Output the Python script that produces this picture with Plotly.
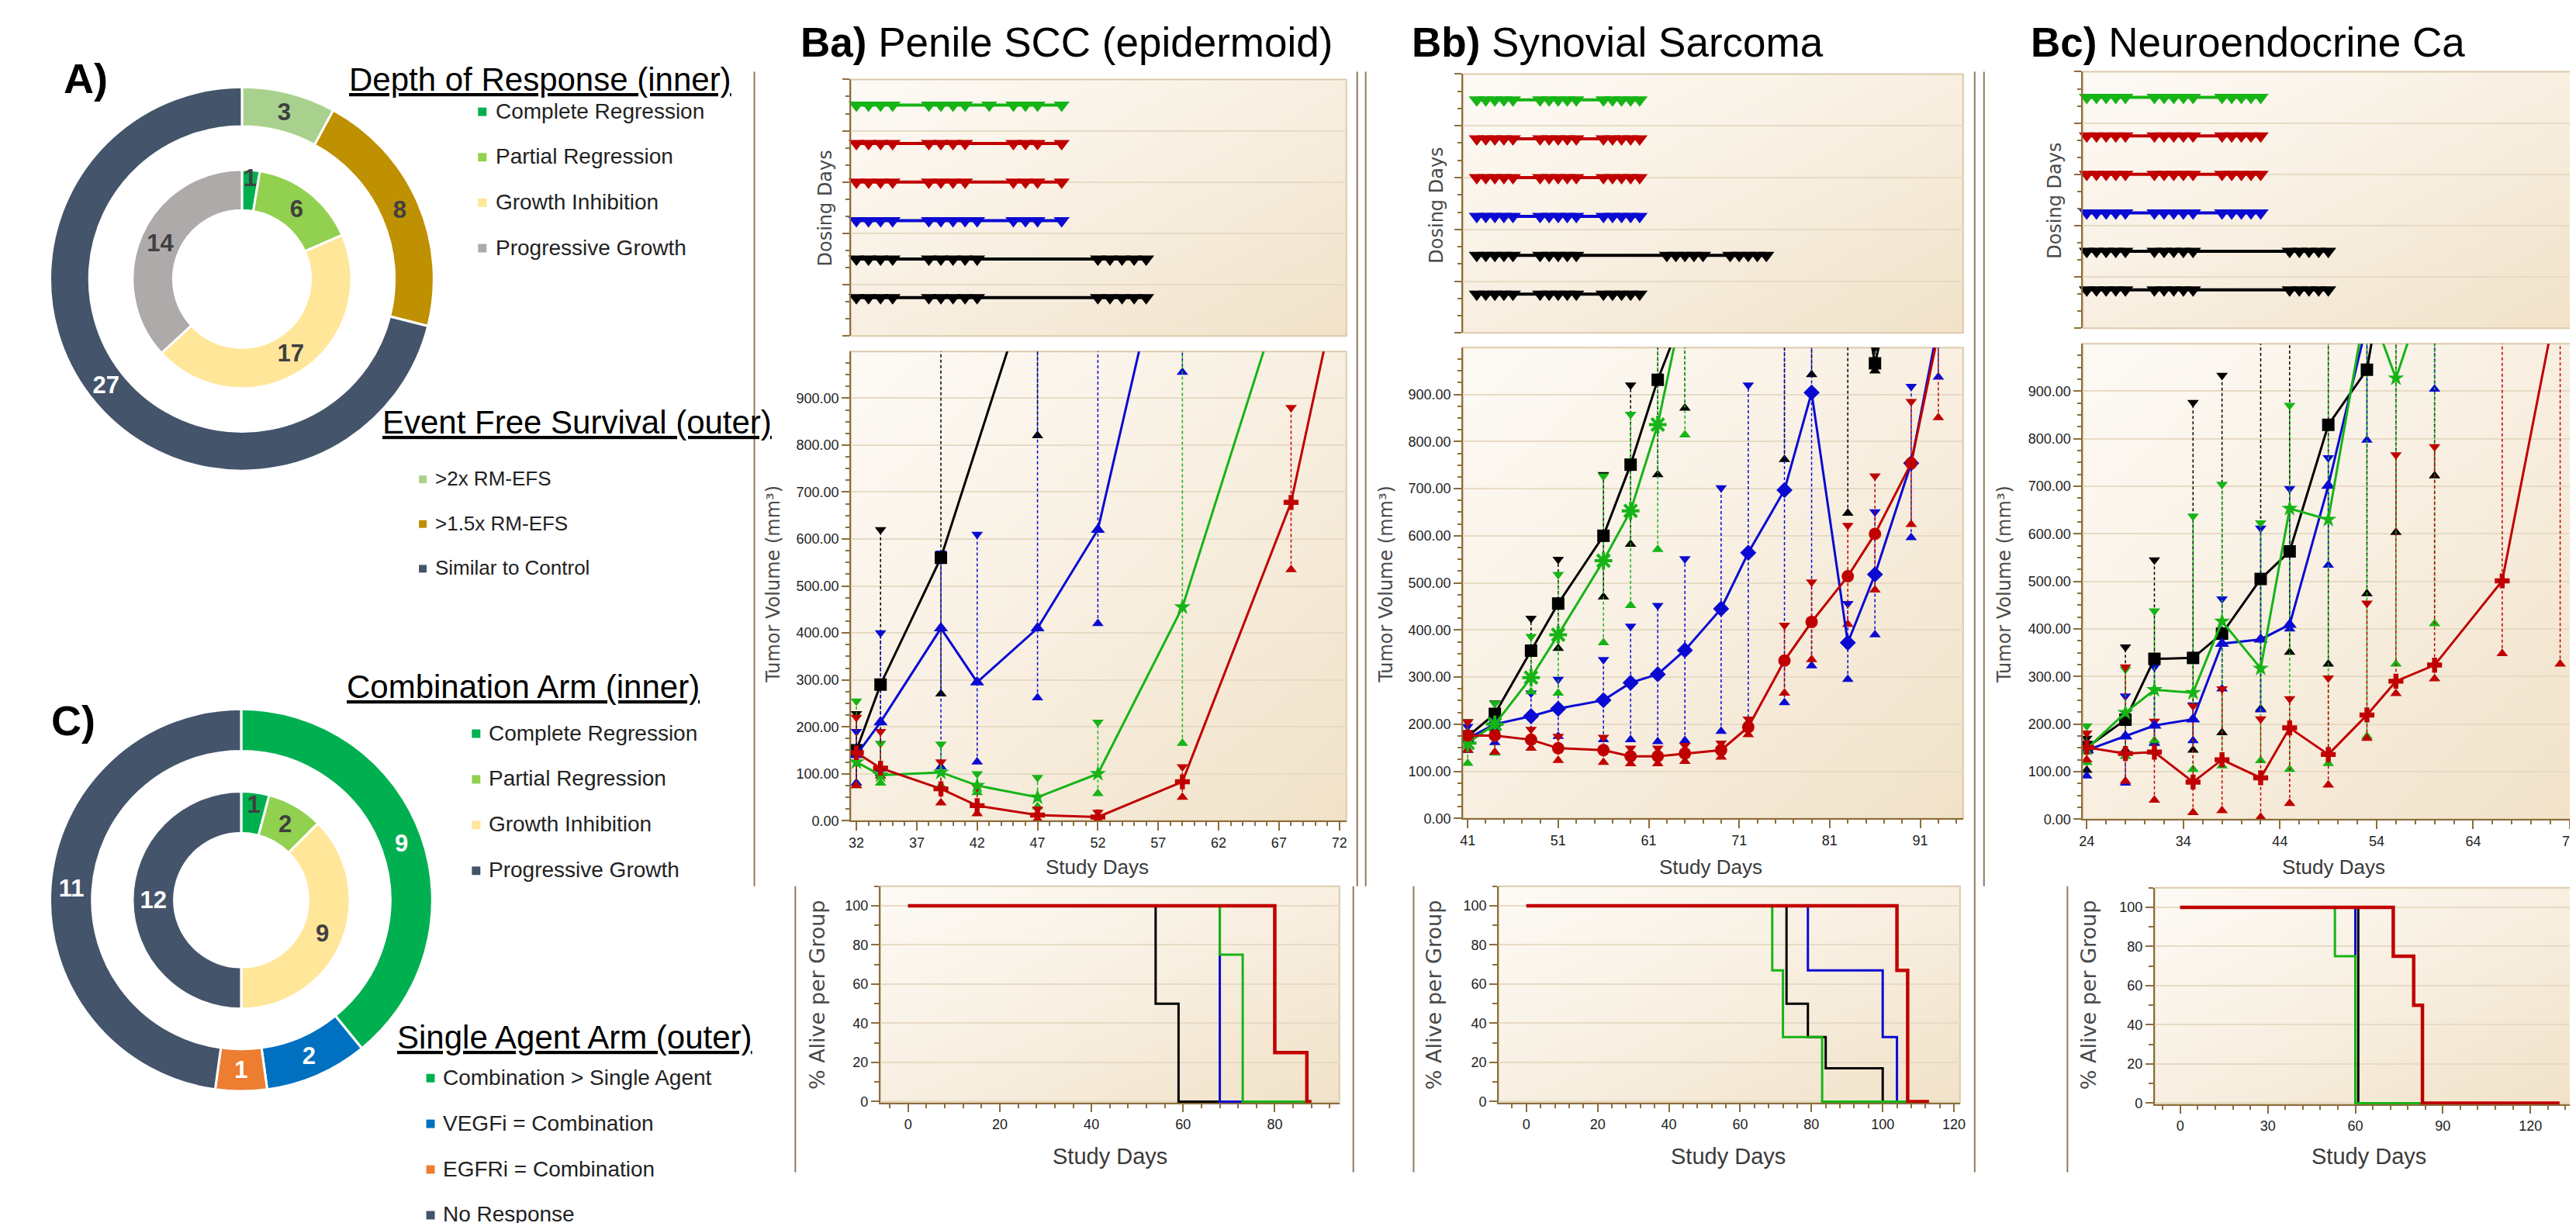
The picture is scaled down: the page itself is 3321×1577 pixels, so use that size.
import base64
import plotly.graph_objects as go

W, H = 3321, 1577

# ===================== DATA =====================
# Panel A - nested donut
dor_labels = ["Complete Regression", "Partial Regression", "Growth Inhibition", "Progressive Growth"]
dor_values = [1, 6, 17, 14]
efs_labels = [">2x RM-EFS", ">1.5x RM-EFS", "Similar to Control"]
efs_values = [3, 8, 27]

# Panel C - nested donut
combo_labels = ["Complete Regression", "Partial Regression", "Growth Inhibition", "Progressive Growth"]
combo_values = [1, 2, 9, 12]
single_labels = ["Combination > Single Agent", "VEGFi = Combination", "EGFRi = Combination", "No Response"]
single_values = [9, 2, 1, 11]

# ---- Ba) Penile SCC: tumour volume (mean, upper, lower) ----
ba_k_day = [32, 34, 39, 47]
ba_k_mean = [150, 290, 560, 1200]
ba_k_hi = [228, 620, 1400, 1700]
ba_k_lo = [80, 100, 270, 820]
ba_b_day = [32, 34, 39, 42, 47, 52, 59]
ba_b_mean = [140, 210, 410, 295, 410, 620, 1400]
ba_b_hi = [190, 400, 570, 610, 1300, 1500, 1800]
ba_b_lo = [80, 110, 115, 125, 262, 420, 955]
ba_g_day = [32, 34, 39, 42, 47, 52, 59, 68]
ba_g_mean = [125, 97, 103, 75, 50, 100, 455, 1184]
ba_g_hi = [255, 165, 163, 100, 92, 210, 1500, 1600]
ba_g_lo = [75, 80, 75, 60, 30, 58, 165, 1050]
ba_r_day = [32, 34, 39, 42, 47, 52, 59, 68, 72]
ba_r_mean = [145, 112, 68, 32, 12, 8, 83, 678, 1155]
ba_r_hi = [220, 190, 125, 72, 25, 18, 115, 880, 1400]
ba_r_lo = [75, 95, 38, 15, 3, 2, 50, 535, 1050]

# ---- Bb) Synovial Sarcoma ----
bb_k_day = [41, 44, 48, 51, 56, 59, 62, 65, 69, 72, 76, 79, 83, 86, 90]
bb_k_mean = [174, 222, 356, 456, 600, 751, 931, 1080, 1200, 1300, 1400, 1450, 1300, 966, 1300]
bb_k_hi = [205, 245, 425, 550, 730, 920, 1150, 1300, 1400, 1500, 1600, 1650, 1500, 1000, 1500]
bb_k_lo = [145, 190, 295, 361, 470, 582, 730, 871, 1050, 1100, 762, 942, 648, 950, 1100]
bb_g_day = [41, 44, 48, 51, 56, 59, 62, 65]
bb_g_mean = [160, 200, 299, 390, 547, 653, 836, 1110]
bb_g_hi = [205, 244, 386, 518, 727, 858, 1100, 1400]
bb_g_lo = [117, 139, 269, 266, 373, 452, 571, 814]
bb_b_day = [41, 44, 48, 51, 56, 59, 62, 65, 69, 72, 76, 79, 83, 86, 90, 93]
bb_b_mean = [170, 200, 217, 233, 251, 288, 306, 357, 445, 564, 697, 904, 373, 518, 754, 1050]
bb_b_hi = [195, 225, 266, 295, 337, 408, 452, 551, 702, 920, 1300, 1500, 456, 651, 917, 1300]
bb_b_lo = [145, 161, 167, 174, 167, 167, 163, 165, 185, 203, 246, 324, 295, 390, 596, 937]
bb_r_day = [41, 44, 48, 51, 56, 59, 62, 65, 69, 72, 76, 79, 83, 86, 90, 93]
bb_r_mean = [176, 176, 167, 149, 145, 132, 132, 138, 145, 194, 335, 417, 514, 604, 754, 1030]
bb_r_hi = [205, 208, 189, 174, 172, 149, 149, 155, 160, 211, 410, 502, 622, 727, 885, 1200]
bb_r_lo = [145, 141, 149, 123, 119, 116, 116, 121, 130, 178, 266, 337, 412, 485, 624, 851]

# ---- Bc) Neuroendocrine Ca ----
bc_k_day = [24, 28, 31, 35, 38, 42, 45, 49, 53, 56, 60]
bc_k_mean = [151, 209, 337, 339, 390, 505, 563, 829, 945, 1300, 1500]
bc_k_hi = [170, 362, 545, 876, 933, 1200, 1300, 1100, 1200, 1600, 1800]
bc_k_lo = [103, 145, 160, 145, 182, 232, 351, 326, 474, 603, 722]
bc_g_day = [24, 28, 31, 35, 38, 42, 45, 49, 53, 56, 60]
bc_g_mean = [148, 224, 272, 266, 416, 317, 653, 630, 1093, 927, 1171]
bc_g_hi = [196, 315, 438, 637, 704, 623, 870, 1200, 1400, 1100, 1500]
bc_g_lo = [119, 132, 165, 105, 112, 123, 105, 117, 174, 326, 411]
bc_b_day = [24, 28, 31, 35, 38, 42, 45, 49, 53, 56, 60]
bc_b_mean = [145, 174, 197, 210, 369, 378, 409, 701, 1034, 1300, 1500]
bc_b_hi = [160, 259, 320, 240, 463, 612, 695, 760, 1300, 1500, 1800]
bc_b_lo = [91, 76, 160, 165, 274, 230, 400, 534, 797, 1050, 904]
bc_r_day = [24, 28, 31, 35, 38, 42, 45, 49, 53, 56, 60, 67, 73]
bc_r_mean = [151, 138, 141, 78, 125, 87, 192, 136, 219, 290, 324, 501, 1125]
bc_r_hi = [181, 320, 206, 238, 274, 211, 253, 297, 454, 766, 783, 1200, 1400]
bc_r_lo = [125, 80, 40, 14, 18, 4, 33, 72, 170, 264, 295, 348, 326]

# ---- survival (% alive per group) ----
ba_sv_k_t, ba_sv_k_s = [0, 54, 59, 68], [100, 50, 0, 0]
ba_sv_b_t, ba_sv_b_s = [0, 68, 73], [100, 0, 0]
ba_sv_g_t, ba_sv_g_s = [0, 68, 73, 87], [100, 75, 0, 0]
ba_sv_r_t, ba_sv_r_s = [0, 80, 87, 88], [100, 25, 0, 0]
bb_sv_k_t, bb_sv_k_s = [0, 73, 79, 84, 100], [100, 50, 33, 17, 0]
bb_sv_b_t, bb_sv_b_s = [0, 79, 100, 104], [100, 67, 33, 0]
bb_sv_g_t, bb_sv_g_s = [0, 69, 72, 83, 107], [100, 67, 33, 0, 0]
bb_sv_r_t, bb_sv_r_s = [0, 104, 107, 113], [100, 67, 0, 0]
bc_sv_k_t, bc_sv_k_s = [0, 61], [100, 0]
bc_sv_b_t, bc_sv_b_s = [0, 60], [100, 0]
bc_sv_g_t, bc_sv_g_s = [0, 53, 60, 83], [100, 75, 0, 0]
bc_sv_r_t, bc_sv_r_s = [0, 73, 80, 83, 130], [100, 75, 50, 0, 0]

# ---- dosing days (rows top -> bottom: green, red, red, blue, black, black) ----
ba_dose_g = [32, 33, 34, 35, 38, 39, 40, 41, 43, 45, 46, 47, 49]
ba_dose_r = [32, 33, 34, 35, 38, 39, 40, 41, 45, 46, 47, 49]
ba_dose_b = [32, 33, 34, 35, 38, 39, 40, 41, 42, 45, 46, 47, 49]
ba_dose_k = [32, 33, 34, 35, 38, 39, 40, 41, 42, 52, 53, 54, 55, 56]
bb_dose_c = [42, 43, 44, 45, 46, 49, 50, 51, 52, 53, 56, 57, 58, 59, 60]
bb_dose_k1 = [42, 43, 44, 45, 46, 49, 50, 51, 52, 53, 63, 64, 65, 66, 67, 70, 71, 72, 73, 74]
bb_dose_k2 = [42, 43, 44, 45, 46, 49, 50, 51, 52, 53, 56, 57, 58, 59, 60]
bc_dose_c = [24, 25, 26, 27, 28, 31, 32, 33, 34, 35, 38, 39, 40, 41, 42]
bc_dose_k = [24, 25, 26, 27, 28, 31, 32, 33, 34, 35, 45, 46, 47, 48, 49]

tumor_ticks = [0, 100, 200, 300, 400, 500, 600, 700, 800, 900]
surv_ticks = [0, 20, 40, 60, 80, 100]

# ===================== STYLE =====================
dor_colors = ["#00b050", "#92d050", "#ffe699", "#aeaaaa"]
efs_colors = ["#a9d18e", "#bf9000", "#44546a"]
combo_colors = ["#00b050", "#92d050", "#ffe699", "#44546a"]
single_colors = ["#00b050", "#0070c0", "#ed7d31", "#44546a"]

K, BL, GR, RD = "#000000", "#0a0ad2", "#16b416", "#c00000"
BROWN = "#8c6d3c"
TAN = "#dccbab"
GRID = "#e7dbc5"
SEP = "#8f7a5c"
F_MAIN = "Liberation Sans, Arial, sans-serif"
F_AXIS = "DejaVu Sans, Verdana, sans-serif"


def xd(l, r):
    return [l / W, r / W]


def yd(t, b):
    return [1 - b / H, 1 - t / H]


fig = go.Figure()
lay = dict(width=W, height=H, margin=dict(l=0, r=0, t=0, b=0),
           paper_bgcolor="white", plot_bgcolor="rgba(0,0,0,0)",
           showlegend=False, uniformtext=dict(minsize=31, mode="show"))
annotations, shapes, images = [], [], []

grad_svg = ('<svg xmlns="http://www.w3.org/2000/svg" width="200" height="200" viewBox="0 0 200 200" '
            'preserveAspectRatio="none"><defs><linearGradient id="g" x1="0" y1="0" x2="1" y2="1">'
            '<stop offset="0" stop-color="#fdfaf5"/><stop offset="0.5" stop-color="#f8efe1"/>'
            '<stop offset="1" stop-color="#f1e2c8"/></linearGradient></defs>'
            '<rect width="200" height="200" fill="url(#g)"/></svg>')
grad_src = "data:image/svg+xml;base64," + base64.b64encode(grad_svg.encode()).decode()


def txt(x, y, text, size, family=F_MAIN, color="#000", xanchor="left", yanchor="middle", angle=0):
    annotations.append(dict(x=x / W, y=1 - y / H, xref="paper", yref="paper", text=text, showarrow=False,
                            xanchor=xanchor, yanchor=yanchor, textangle=angle,
                            font=dict(size=size, family=family, color=color)))


def vline(x, y0, y1):
    shapes.append(dict(type="line", xref="paper", yref="paper", x0=x / W, x1=x / W, y0=1 - y0 / H,
                       y1=1 - y1 / H, line=dict(color=SEP, width=2)))


def setup_axes(n, box, xr, yr, kind, xt0=None, xdt=None, xmin=None):
    l, t, r, b = box
    sx = "" if n == 1 else str(n)
    images.append(dict(source=grad_src, xref="paper", yref="paper", x=l / W, y=1 - t / H,
                       sizex=(r - l) / W, sizey=(b - t) / H, xanchor="left", yanchor="top",
                       sizing="stretch", layer="below"))
    shapes.append(dict(type="rect", xref="x%s domain" % sx, yref="y%s domain" % sx, x0=0, x1=1, y0=0, y1=1,
                       line=dict(color=TAN, width=2), layer="below"))
    xa = dict(domain=xd(l, r), range=xr, anchor="y" + sx, showgrid=False, zeroline=False, fixedrange=True)
    ya = dict(domain=yd(t, b), range=yr, anchor="x" + sx, zeroline=False, fixedrange=True,
              showline=True, linecolor=BROWN, linewidth=2, ticks="outside", tickcolor=BROWN, tickwidth=2,
              showgrid=True, gridcolor=GRID, gridwidth=2,
              tickfont=dict(family=F_MAIN, size=18, color="#222"))
    if kind == "dose":
        ya.update(tickmode="linear", tick0=0, dtick=1, ticklen=9, showticklabels=False,
                  minor=dict(tick0=0, dtick=1 / 3, ticks="outside", ticklen=5, tickcolor=BROWN, tickwidth=2))
        xa.update(showticklabels=False, ticks="", showline=False)
    elif kind == "tumor":
        ya.update(tickmode="array", tickvals=tumor_ticks, tickformat=".2f", ticklen=10,
                  minor=dict(tick0=0, dtick=25, ticks="outside", ticklen=5, tickcolor=BROWN, tickwidth=2))
        xa.update(showline=True, linecolor=BROWN, linewidth=2, ticks="outside", ticklen=11, tickcolor=BROWN,
                  tickwidth=2, tick0=xt0, dtick=xdt,
                  tickfont=dict(family=F_MAIN, size=18, color="#222"),
                  minor=dict(tick0=xt0, dtick=xmin, ticks="outside", ticklen=5, tickcolor=BROWN, tickwidth=2))
    else:
        ya.update(tickmode="array", tickvals=surv_ticks, ticklen=10,
                  tickfont=dict(family=F_MAIN, size=18, color="#222"),
                  minor=dict(tick0=0, dtick=10, ticks="outside", ticklen=6, tickcolor=BROWN, tickwidth=2))
        xa.update(showline=True, linecolor=BROWN, linewidth=2, ticks="outside", ticklen=10, tickcolor=BROWN,
                  tickwidth=2, tick0=0, dtick=xdt,
                  tickfont=dict(family=F_MAIN, size=18, color="#222"),
                  minor=dict(tick0=0, dtick=xmin, ticks="outside", ticklen=5, tickcolor=BROWN, tickwidth=2))
    lay["xaxis" + sx] = xa
    lay["yaxis" + sx] = ya
    return "x" + sx, "y" + sx


def add_dosing(ax, rows):
    row_y = [4.5, 3.75, 3.0, 2.25, 1.5, 0.75]
    for (days, col), yv in zip(rows, row_y):
        fig.add_trace(go.Scatter(x=days, y=[yv] * len(days), mode="lines+markers", xaxis=ax[0], yaxis=ax[1],
                                 line=dict(color=col, width=4),
                                 marker=dict(symbol="triangle-down", size=18, color=col),
                                 hoverinfo="skip", cliponaxis=False))


def add_tumor(ax, groups):
    for d, m, hi, lo, col, sym in groups:
        xs, ys = [], []
        for dd, l_, h_ in zip(d, lo, hi):
            xs += [dd, dd, None]
            ys += [l_, h_, None]
        fig.add_trace(go.Scatter(x=xs, y=ys, mode="lines", xaxis=ax[0], yaxis=ax[1],
                                 line=dict(color=col, width=1.5, dash="4px,3px"), hoverinfo="skip"))
        fig.add_trace(go.Scatter(x=d, y=hi, mode="markers", xaxis=ax[0], yaxis=ax[1],
                                 marker=dict(symbol="triangle-down", size=13, color=col), hoverinfo="skip"))
        fig.add_trace(go.Scatter(x=d, y=lo, mode="markers", xaxis=ax[0], yaxis=ax[1],
                                 marker=dict(symbol="triangle-up", size=13, color=col), hoverinfo="skip"))
    for d, m, hi, lo, col, sym in groups:
        mk = dict(symbol=sym, size=16, color=col)
        if sym.endswith("-open"):
            mk.update(size=19, line=dict(color=col, width=4))
        fig.add_trace(go.Scatter(x=d, y=m, mode="lines+markers", xaxis=ax[0], yaxis=ax[1],
                                 line=dict(color=col, width=3), marker=mk, hoverinfo="skip"))


def add_surv(ax, curves):
    for t, s, col, wd in curves:
        fig.add_trace(go.Scatter(x=t, y=s, mode="lines", line_shape="hv", xaxis=ax[0], yaxis=ax[1],
                                 line=dict(color=col, width=wd), hoverinfo="skip"))


# ===================== B PANELS =====================
# Ba
a1 = setup_axes(1, (1088, 95, 1729, 428), [31.55, 72.58], [0, 5], "dose")
a2 = setup_axes(2, (1088, 448, 1729, 1057), [31.55, 72.58], [0, 999.5], "tumor", 32, 5, 1)
a3 = setup_axes(3, (1126, 1142, 1720, 1423), [-6.07, 94.1], [-0.6, 110], "surv", None, 20, 4)
add_dosing(a1, [(ba_dose_g, GR), (ba_dose_r, RD), (ba_dose_r, RD), (ba_dose_b, BL), (ba_dose_k, K), (ba_dose_k, K)])
add_tumor(a2, [(ba_k_day, ba_k_mean, ba_k_hi, ba_k_lo, K, "square"),
               (ba_b_day, ba_b_mean, ba_b_hi, ba_b_lo, BL, "triangle-up"),
               (ba_g_day, ba_g_mean, ba_g_hi, ba_g_lo, GR, "star"),
               (ba_r_day, ba_r_mean, ba_r_hi, ba_r_lo, RD, "cross")])
add_surv(a3, [(ba_sv_k_t, ba_sv_k_s, K, 3), (ba_sv_b_t, ba_sv_b_s, BL, 3),
              (ba_sv_g_t, ba_sv_g_s, GR, 3), (ba_sv_r_t, ba_sv_r_s, RD, 4.5)])

# Bb
a4 = setup_axes(4, (1880, 88, 2527, 424), [40.49, 95.74], [0, 5], "dose")
a5 = setup_axes(5, (1880, 443, 2527, 1054), [40.49, 95.74], [0, 999.5], "tumor", 41, 10, 2)
a6 = setup_axes(6, (1926, 1142, 2523, 1423), [-7.8, 121.7], [-0.6, 110], "surv", None, 20, 4)
add_dosing(a4, [(bb_dose_c, GR), (bb_dose_c, RD), (bb_dose_c, RD), (bb_dose_c, BL), (bb_dose_k1, K), (bb_dose_k2, K)])
add_tumor(a5, [(bb_k_day, bb_k_mean, bb_k_hi, bb_k_lo, K, "square"),
               (bb_b_day, bb_b_mean, bb_b_hi, bb_b_lo, BL, "diamond"),
               (bb_g_day, bb_g_mean, bb_g_hi, bb_g_lo, GR, "asterisk-open"),
               (bb_r_day, bb_r_mean, bb_r_hi, bb_r_lo, RD, "circle")])
add_surv(a6, [(bb_sv_k_t, bb_sv_k_s, K, 3), (bb_sv_b_t, bb_sv_b_s, BL, 3),
              (bb_sv_g_t, bb_sv_g_s, GR, 3), (bb_sv_r_t, bb_sv_r_s, RD, 4.5)])

# Bc
a7 = setup_axes(7, (2682, 85, 3321, 418), [23.6, 74.72], [0, 5], "dose")
a8 = setup_axes(8, (2682, 438, 3321, 1055), [23.6, 74.72], [0, 999.5], "tumor", 24, 10, 2)
a9 = setup_axes(9, (2775, 1144, 3321, 1425), [-8.74, 135.9], [-0.6, 110], "surv", None, 30, 6)
add_dosing(a7, [(bc_dose_c, GR), (bc_dose_c, RD), (bc_dose_c, RD), (bc_dose_c, BL), (bc_dose_k, K), (bc_dose_k, K)])
add_tumor(a8, [(bc_k_day, bc_k_mean, bc_k_hi, bc_k_lo, K, "square"),
               (bc_b_day, bc_b_mean, bc_b_hi, bc_b_lo, BL, "triangle-up"),
               (bc_g_day, bc_g_mean, bc_g_hi, bc_g_lo, GR, "star"),
               (bc_r_day, bc_r_mean, bc_r_hi, bc_r_lo, RD, "cross")])
add_surv(a9, [(bc_sv_k_t, bc_sv_k_s, K, 3), (bc_sv_b_t, bc_sv_b_s, BL, 3),
              (bc_sv_g_t, bc_sv_g_s, GR, 3), (bc_sv_r_t, bc_sv_r_s, RD, 4.5)])

# titles & axis titles
for x0, ttl in [(1021, "<b>Ba)</b> Penile SCC (epidermoid)"), (1812, "<b>Bb)</b> Synovial Sarcoma"),
                (2612, "<b>Bc)</b> Neuroendocrine Ca")]:
    txt(x0, 47, ttl, 53, F_MAIN)
for tvx, dosx, dosy, svx, sdx_t, sdx_s in [(988, 1055, 262, 1045, 1407, 1423),
                                           (1781, 1846, 258, 1843, 2200, 2223),
                                           (2581, 2646, 252, 2690, 3006, 3052)]:
    txt(tvx, 750, "Tumor Volume (mm³)", 24, F_AXIS, "#4a4a4a", "center", "middle", -90)
    txt(dosx, dosy, "Dosing Days", 24, F_AXIS, "#4a4a4a", "center", "middle", -90)
    txt(svx, 1283, "% Alive per Group", 27, F_AXIS, "#4a4a4a", "center", "middle", -90)
    txt(sdx_t, 1117, "Study Days", 26, F_MAIN, "#3a3a3a", "center", "middle")
    txt(sdx_s, 1492, "Study Days", 29, F_MAIN, "#3a3a3a", "center", "middle")

# separator lines
for x in [963, 1743, 1754, 2542, 2554]:
    vline(x, 85, 1142)
for x in [1016, 1738, 1816, 2542, 2662]:
    vline(x, 1142, 1513)

# ===================== DONUTS =====================
def pie(values, labels, colors, tcolors, box, hole):
    l, t, r, b = box
    fig.add_trace(go.Pie(values=values, labels=labels, sort=False, direction="clockwise", rotation=0,
                         domain=dict(x=xd(l, r), y=yd(t, b)), hole=hole,
                         marker=dict(colors=colors, line=dict(color="white", width=3)),
                         texttemplate="<b>%{value}</b>", textposition="inside",
                         insidetextorientation="horizontal",
                         textfont=dict(family=F_MAIN, size=31, color=tcolors),
                         hoverinfo="skip", showlegend=False))


pie(efs_values, efs_labels, efs_colors, ["#404040", "#404040", "white"], (51, 105, 549, 603), 0.795)
pie(dor_values, dor_labels, dor_colors, ["#404040"] * 4, (158, 212, 442, 496), 0.627)
pie(single_values, single_labels, single_colors, ["white"] * 4, (51, 912, 547, 1408), 0.78)
pie(combo_values, combo_labels, combo_colors, ["#404040", "#404040", "#404040", "white"], (158, 1019, 440, 1301), 0.617)

txt(67, 94, "<b>A)</b>", 54)
txt(51, 927, "<b>C)</b>", 54)
txt(437, 95, "<u>Depth of Response (inner)</u>", 42)
txt(480, 540, "<u>Event Free Survival (outer)</u>", 42)
txt(434, 883, "<u>Combination Arm (inner)</u>", 42)
txt(499, 1338, "<u>Single Agent Arm (outer)</u>", 42)


def legend(labels, colors, sx, tx, y0, dy, size, sq):
    for i, (lab, col) in enumerate(zip(labels, colors)):
        y = y0 + i * dy
        shapes.append(dict(type="rect", xref="paper", yref="paper", x0=(sx - sq / 2) / W, x1=(sx + sq / 2) / W,
                           y0=1 - (y + sq / 2 + 1) / H, y1=1 - (y - sq / 2 + 1) / H,
                           fillcolor=col, line=dict(width=0)))
        txt(tx, y, lab, size, F_MAIN, "#222")


legend(dor_labels, dor_colors, 611, 626, 136, 59, 28, 11)
legend(efs_labels, efs_colors, 534, 548, 613, 58, 26, 10)
legend(combo_labels, combo_colors, 603, 617, 943, 59.3, 28, 11)
legend(single_labels, single_colors, 544, 558, 1390, 59.3, 28, 11)

lay["annotations"] = annotations
lay["shapes"] = shapes
lay["images"] = images
fig.update_layout(**lay)
fig.write_html("out.html")
